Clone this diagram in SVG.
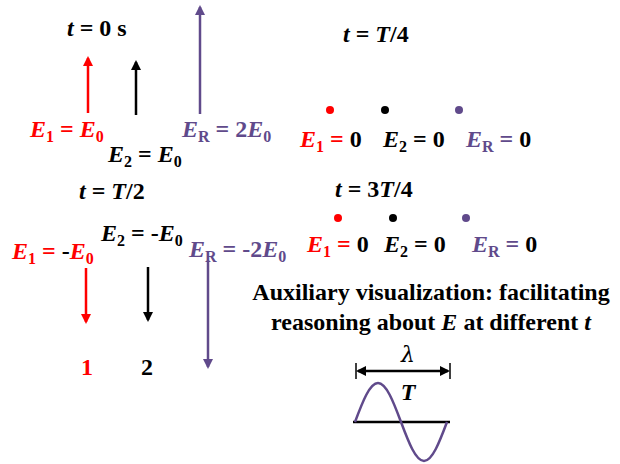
<svg xmlns="http://www.w3.org/2000/svg" width="620" height="464" viewBox="0 0 620 464">
<defs>
<style>
text{font-family:"Liberation Serif","Times New Roman",serif;font-weight:bold;font-size:24px}
.i{font-style:italic}
.s{font-size:16px}
.red{fill:#FF0000}.blk{fill:#000}.pur{fill:#604A8B}
.lr{stroke:#FF0000;stroke-width:2.5;fill:none}
.lb{stroke:#000;stroke-width:2.5;fill:none}
.lp{stroke:#604A8B;stroke-width:2.5;fill:none}
</style>
<marker id="ar" markerWidth="10" markerHeight="10" viewBox="0 0 10 10" refX="8" refY="5" orient="auto" markerUnits="userSpaceOnUse"><path d="M0,0 L10,5 L0,10 Z" fill="#FF0000"/></marker>
<marker id="ab" markerWidth="10" markerHeight="10" viewBox="0 0 10 10" refX="8" refY="5" orient="auto" markerUnits="userSpaceOnUse"><path d="M0,0 L10,5 L0,10 Z" fill="#000"/></marker>
<marker id="ap" markerWidth="10" markerHeight="10" viewBox="0 0 10 10" refX="8" refY="5" orient="auto" markerUnits="userSpaceOnUse"><path d="M0,0 L10,5 L0,10 Z" fill="#604A8B"/></marker>
<marker id="ak" markerWidth="10" markerHeight="10" viewBox="0 0 10 10" refX="8" refY="5" orient="auto-start-reverse" markerUnits="userSpaceOnUse"><path d="M0,0 L10,5 L0,10 Z" fill="#000"/></marker>
</defs>
<rect width="620" height="464" fill="#fff"/>

<g id="t0">
<text x="67" y="36"><tspan class="i">t</tspan> = 0 s</text>
<text x="30" y="137" class="red"><tspan class="i">E</tspan><tspan class="s" dy="5">1</tspan><tspan dy="-5"> = </tspan><tspan class="i">E</tspan><tspan class="s" dy="5">0</tspan></text>
<text x="108" y="162" class="blk"><tspan class="i">E</tspan><tspan class="s" dy="5">2</tspan><tspan dy="-5"> = </tspan><tspan class="i">E</tspan><tspan class="s" dy="5">0</tspan></text>
<text x="182" y="137" class="pur"><tspan class="i">E</tspan><tspan class="s" dy="5">R</tspan><tspan dy="-5"> = 2</tspan><tspan class="i">E</tspan><tspan class="s" dy="5">0</tspan></text>
</g>

<g id="tT4">
<text x="343" y="42"><tspan class="i">t</tspan> = <tspan class="i">T</tspan>/4</text>
<circle cx="330" cy="110" r="4" fill="#FF0000"/>
<circle cx="385" cy="110" r="4" fill="#000"/>
<circle cx="459" cy="110" r="4" fill="#604A8B"/>
<text x="300" y="147"><tspan class="red"><tspan class="i">E</tspan><tspan class="s" dy="5">1</tspan><tspan dy="-5"> =</tspan></tspan> 0</text>
<text x="383" y="147"><tspan class="i">E</tspan><tspan class="s" dy="5">2</tspan><tspan dy="-5"> = 0</tspan></text>
<text x="466" y="147"><tspan class="pur"><tspan class="i">E</tspan><tspan class="s" dy="5">R</tspan><tspan dy="-5"> =</tspan></tspan> 0</text>
</g>

<g id="tT2">
<text x="79" y="199"><tspan class="i">t</tspan> = <tspan class="i">T</tspan>/2</text>
<text x="101" y="241" class="blk"><tspan class="i">E</tspan><tspan class="s" dy="5">2</tspan><tspan dy="-5"> = -</tspan><tspan class="i">E</tspan><tspan class="s" dy="5">0</tspan></text>
<text x="12" y="259" class="red"><tspan class="i">E</tspan><tspan class="s" dy="5">1</tspan><tspan dy="-5"> = </tspan><tspan class="blk">-</tspan><tspan class="i">E</tspan><tspan class="s" dy="5">0</tspan></text>
<text x="189" y="257" class="pur"><tspan class="i">E</tspan><tspan class="s" dy="5">R</tspan><tspan dy="-5"> = -2</tspan><tspan class="i">E</tspan><tspan class="s" dy="5">0</tspan></text>
<text x="87" y="375" class="red" text-anchor="middle">1</text>
<text x="147" y="375" class="blk" text-anchor="middle">2</text>
</g>

<g id="t3T4">
<text x="335" y="197"><tspan class="i">t</tspan> = 3<tspan class="i">T</tspan>/4</text>
<circle cx="338" cy="218" r="4" fill="#FF0000"/>
<circle cx="393" cy="218" r="4" fill="#000"/>
<circle cx="466" cy="218" r="4" fill="#604A8B"/>
<text x="307" y="252"><tspan class="red"><tspan class="i">E</tspan><tspan class="s" dy="5">1</tspan><tspan dy="-5"> =</tspan></tspan> 0</text>
<text x="384" y="252"><tspan class="i">E</tspan><tspan class="s" dy="5">2</tspan><tspan dy="-5"> = 0</tspan></text>
<text x="472" y="252"><tspan class="pur"><tspan class="i">E</tspan><tspan class="s" dy="5">R</tspan><tspan dy="-5"> =</tspan></tspan> 0</text>
</g>

<g id="caption">
<text x="431" y="300" text-anchor="middle">Auxiliary visualization: facilitating</text>
<text x="431" y="330" text-anchor="middle">reasoning about <tspan class="i">E</tspan> at different <tspan class="i">t</tspan></text>
</g>

<g id="wave">
<line x1="356" y1="363" x2="356" y2="379" stroke="#000" stroke-width="1.5"/>
<line x1="450" y1="363" x2="450" y2="379" stroke="#000" stroke-width="1.5"/>
<line x1="358" y1="371" x2="448" y2="371" class="lb" marker-start="url(#ak)" marker-end="url(#ak)"/>
<text x="408" y="362" text-anchor="middle" style="font-family:'DejaVu Serif',serif;font-weight:normal;font-style:italic;font-size:22px">λ</text>
<text x="408" y="400" text-anchor="middle" class="i">T</text>
<line x1="353" y1="422" x2="450" y2="422" stroke="#000" stroke-width="2.5"/>
<path class="lp" d="M355,422 C362.5,402 369.7,383 378,383 C386.3,383 393.5,402 401,422 C408.5,442 415.7,461 424,461 C432.3,461 439.5,442 447,422"/>
</g>

<g id="connectors">
<line x1="88" y1="113" x2="88" y2="58" class="lr" marker-end="url(#ar)"/>
<line x1="136" y1="115" x2="136" y2="62" class="lb" marker-end="url(#ab)"/>
<line x1="200" y1="114" x2="200" y2="7" class="lp" marker-end="url(#ap)"/>
<line x1="86" y1="268" x2="86" y2="322" class="lr" marker-end="url(#ar)"/>
<line x1="148" y1="267" x2="148" y2="320" class="lb" marker-end="url(#ab)"/>
<line x1="208" y1="260" x2="208" y2="367" class="lp" marker-end="url(#ap)"/>
</g>
</svg>
